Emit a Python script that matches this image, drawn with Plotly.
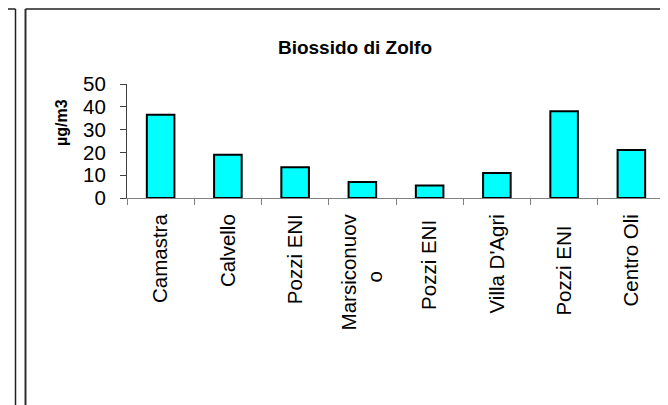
import plotly.graph_objects as go

NB = "\u00a0"
categories = ["Camastra", "Calvello", "Pozzi ENI", "Marsiconuov<br>o" + NB * 10,
              "Pozzi ENI ", "Villa D'Agri", "Pozzi ENI  ", "Centro Oli"]
values = [36.5, 19, 13.5, 7, 5.5, 11, 38, 21]
y_ticks = [0, 10, 20, 30, 40, 50]
title_text = "Biossido di Zolfo"
y_title = "µg/m3"

OFF = 8  # page body margin
W, H = 668 - OFF, 405 - OFF
# plot area edges in page pixels: x 127..665, y 84..198
L = 127 - OFF
R = W - (665 - OFF)
T = 84 - OFF
B = H - (198 - OFF)
pw, ph = W - L - R, H - T - B

def px_x(p):
    return (p - OFF - L) / pw

def px_y(p):
    return (198 - p) / ph

fig = go.Figure(go.Bar(
    x=categories, y=values,
    marker=dict(color="#00FFFF", line=dict(color="black", width=2)),
))

font = "Liberation Sans, Arial, sans-serif"
fig.update_layout(
    width=W, height=H,
    margin=dict(l=L, r=R, t=T, b=B, autoexpand=False),
    paper_bgcolor="white", plot_bgcolor="white",
    bargap=0.59,
    showlegend=False,
    font=dict(family=font, color="black", size=20),
    title=dict(text="<b>" + title_text + "</b>", xref="container", yref="container",
               x=(355 - OFF) / W, y=1 - (47 - OFF) / H, xanchor="center", yanchor="middle",
               font=dict(size=19, family=font, color="black")),
)
fig.update_xaxes(
    type="category", tickson="boundaries", ticks="outside", ticklen=6,
    tickcolor="#808080", showline=True, linecolor="#808080", linewidth=1,
    tickangle=-90, tickfont=dict(size=20.5), showgrid=False, automargin=False,
    ticklabelstandoff=7,
)
fig.update_yaxes(
    range=[0, 50], tickvals=y_ticks, ticks="outside", ticklen=6,
    tickcolor="#404040", showline=True, linecolor="#404040", linewidth=1,
    showgrid=False, zeroline=False, tickfont=dict(size=20.5), automargin=False,
    ticklabelstandoff=10,
)
fig.add_annotation(text="<b>" + y_title + "</b>", xref="paper", yref="paper",
                   x=px_x(61), y=px_y(123), textangle=-90, showarrow=False,
                   font=dict(size=16, family=font, color="black"),
                   xanchor="center", yanchor="middle")

# frame lines (page pixel coordinates)
line_style = dict(color="#202020", width=1.5)
fig.add_shape(type="line", xref="paper", yref="paper", x0=px_x(15.5), x1=px_x(15.5),
              y0=px_y(9), y1=px_y(406), line=line_style)
fig.add_shape(type="line", xref="paper", yref="paper", x0=px_x(0), x1=px_x(15.5),
              y0=px_y(9), y1=px_y(9), line=line_style)
fig.add_shape(type="line", xref="paper", yref="paper", x0=px_x(25.5), x1=px_x(25.5),
              y0=px_y(9), y1=px_y(406), line=dict(color="#303030", width=2))
fig.add_shape(type="line", xref="paper", yref="paper", x0=px_x(25.5), x1=px_x(669),
              y0=px_y(9), y1=px_y(9), line=line_style)

fig.write_html("out.html")
